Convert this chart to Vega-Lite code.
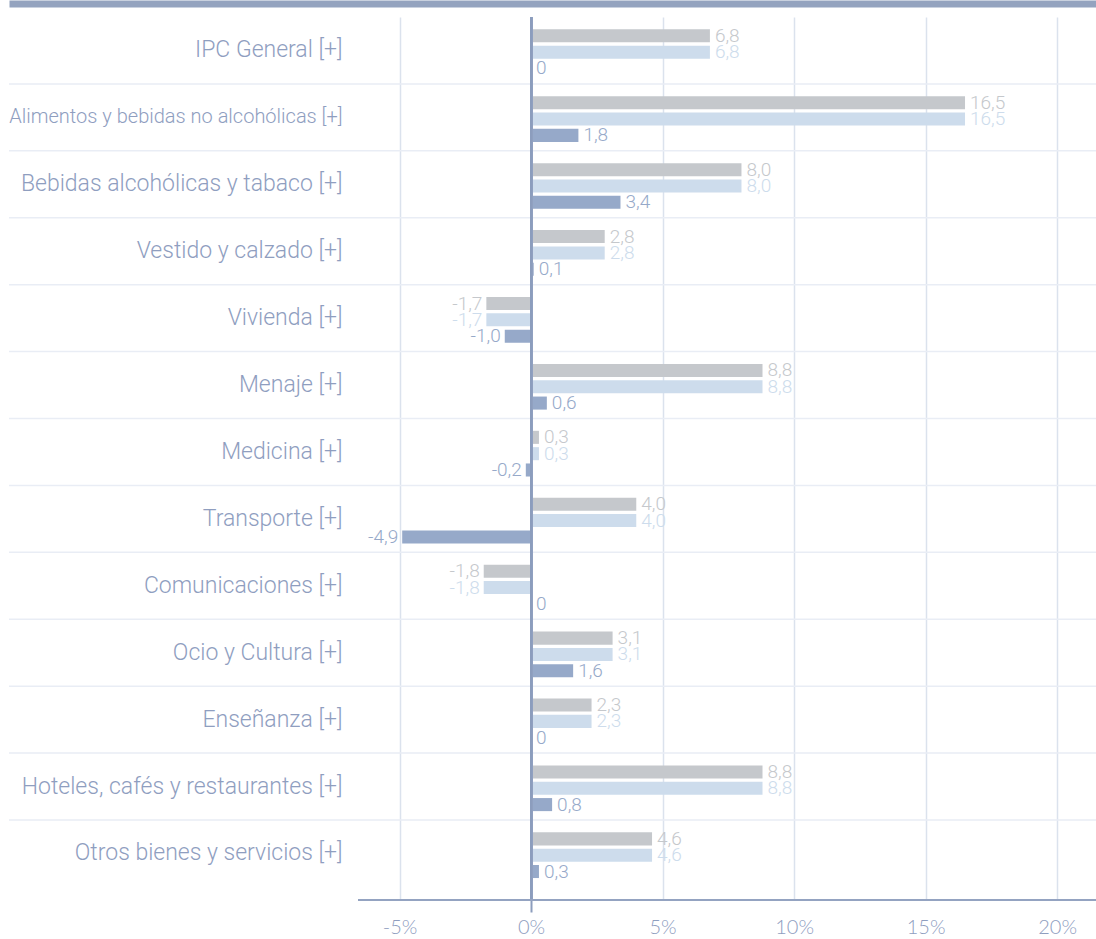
{
  "$schema": "https://vega.github.io/schema/vega-lite/v6.json",
  "width": 1087,
  "height": 883,
  "autosize": {"type": "none"},
  "padding": {"left": 9, "top": 17, "right": 0, "bottom": 39},
  "background": "white",
  "config": {
    "view": {"stroke": null},
    "locale": {"number": {"decimal": ",", "thousands": ".", "grouping": [3], "currency": ["", " €"], "minus": "-"}}
  },
  "data": {
    "values": [
      {"cat": "IPC General [+]", "serie": "Anual", "v": 6.8},
      {"cat": "IPC General [+]", "serie": "Acumulada", "v": 6.8},
      {"cat": "IPC General [+]", "serie": "Mensual", "v": 0},
      {"cat": "Alimentos y bebidas no alcohólicas [+]", "serie": "Anual", "v": 16.5},
      {"cat": "Alimentos y bebidas no alcohólicas [+]", "serie": "Acumulada", "v": 16.5},
      {"cat": "Alimentos y bebidas no alcohólicas [+]", "serie": "Mensual", "v": 1.8},
      {"cat": "Bebidas alcohólicas y tabaco [+]", "serie": "Anual", "v": 8.0},
      {"cat": "Bebidas alcohólicas y tabaco [+]", "serie": "Acumulada", "v": 8.0},
      {"cat": "Bebidas alcohólicas y tabaco [+]", "serie": "Mensual", "v": 3.4},
      {"cat": "Vestido y calzado [+]", "serie": "Anual", "v": 2.8},
      {"cat": "Vestido y calzado [+]", "serie": "Acumulada", "v": 2.8},
      {"cat": "Vestido y calzado [+]", "serie": "Mensual", "v": 0.1},
      {"cat": "Vivienda [+]", "serie": "Anual", "v": -1.7},
      {"cat": "Vivienda [+]", "serie": "Acumulada", "v": -1.7},
      {"cat": "Vivienda [+]", "serie": "Mensual", "v": -1.0},
      {"cat": "Menaje [+]", "serie": "Anual", "v": 8.8},
      {"cat": "Menaje [+]", "serie": "Acumulada", "v": 8.8},
      {"cat": "Menaje [+]", "serie": "Mensual", "v": 0.6},
      {"cat": "Medicina [+]", "serie": "Anual", "v": 0.3},
      {"cat": "Medicina [+]", "serie": "Acumulada", "v": 0.3},
      {"cat": "Medicina [+]", "serie": "Mensual", "v": -0.2},
      {"cat": "Transporte [+]", "serie": "Anual", "v": 4.0},
      {"cat": "Transporte [+]", "serie": "Acumulada", "v": 4.0},
      {"cat": "Transporte [+]", "serie": "Mensual", "v": -4.9},
      {"cat": "Comunicaciones [+]", "serie": "Anual", "v": -1.8},
      {"cat": "Comunicaciones [+]", "serie": "Acumulada", "v": -1.8},
      {"cat": "Comunicaciones [+]", "serie": "Mensual", "v": 0},
      {"cat": "Ocio y Cultura [+]", "serie": "Anual", "v": 3.1},
      {"cat": "Ocio y Cultura [+]", "serie": "Acumulada", "v": 3.1},
      {"cat": "Ocio y Cultura [+]", "serie": "Mensual", "v": 1.6},
      {"cat": "Enseñanza [+]", "serie": "Anual", "v": 2.3},
      {"cat": "Enseñanza [+]", "serie": "Acumulada", "v": 2.3},
      {"cat": "Enseñanza [+]", "serie": "Mensual", "v": 0},
      {"cat": "Hoteles, cafés y restaurantes [+]", "serie": "Anual", "v": 8.8},
      {"cat": "Hoteles, cafés y restaurantes [+]", "serie": "Acumulada", "v": 8.8},
      {"cat": "Hoteles, cafés y restaurantes [+]", "serie": "Mensual", "v": 0.8},
      {"cat": "Otros bienes y servicios [+]", "serie": "Anual", "v": 4.6},
      {"cat": "Otros bienes y servicios [+]", "serie": "Acumulada", "v": 4.6},
      {"cat": "Otros bienes y servicios [+]", "serie": "Mensual", "v": 0.3}
    ]
  },
  "layer": [
    {
      "layer": [
        {
          "transform": [{"filter": "datum.serie === 'Mensual' && datum.cat !== 'IPC General [+]'"}],
          "mark": {"type": "rule", "color": "#e9edf5", "strokeWidth": 1.5},
          "encoding": {
            "y": {"field": "cat", "type": "nominal", "bandPosition": 0, "title": null,
              "sort": ["IPC General [+]", "Alimentos y bebidas no alcohólicas [+]", "Bebidas alcohólicas y tabaco [+]", "Vestido y calzado [+]", "Vivienda [+]", "Menaje [+]", "Medicina [+]", "Transporte [+]", "Comunicaciones [+]", "Ocio y Cultura [+]", "Enseñanza [+]", "Hoteles, cafés y restaurantes [+]", "Otros bienes y servicios [+]"]}
          }
        },
        {
          "mark": {"type": "bar"},
          "encoding": {
            "y": {"field": "cat", "type": "nominal", "title": null,
              "sort": ["IPC General [+]", "Alimentos y bebidas no alcohólicas [+]", "Bebidas alcohólicas y tabaco [+]", "Vestido y calzado [+]", "Vivienda [+]", "Menaje [+]", "Medicina [+]", "Transporte [+]", "Comunicaciones [+]", "Ocio y Cultura [+]", "Enseñanza [+]", "Hoteles, cafés y restaurantes [+]", "Otros bienes y servicios [+]"],
              "scale": {"paddingInner": 0, "paddingOuter": 0.0975, "align": 0},
              "axis": {"ticks": false, "tickSize": 0, "domain": false, "grid": false, "labelAlign": "right", "labelBaseline": "middle", "labelPadding": -333, "labelFont": "Roboto", "labelFontWeight": 300,
                "labelFontSize": {"condition": {"test": "datum.value === 'Alimentos y bebidas no alcohólicas [+]'", "value": 20}, "value": 23},
                "labelColor": "#8f9ebf", "labelLimit": 0}},
            "yOffset": {"field": "serie", "sort": ["Anual", "Acumulada", "Mensual"], "scale": {"paddingInner": 0.2, "paddingOuter": 0.65, "align": 0.58}},
            "x": {"field": "v", "type": "quantitative", "title": null,
              "scale": {"domain": [-19.85, 21.48], "nice": false},
              "axis": {"values": [-5, 0, 5, 10, 15, 20], "labelExpr": "datum.value + '%'", "domain": false,
                "grid": true, "gridColor": "#dbe2ed", "gridWidth": 1.5,
                "ticks": true, "tickSize": 12, "tickWidth": 2,
                "tickColor": {"condition": {"test": "datum.value === 0", "value": "#8c9dbd"}, "value": "transparent"},
                "labelPadding": 5, "labelFont": "Lato", "labelFontWeight": 300, "labelFontSize": 20, "labelColor": "#8f9ebf", "labelFlush": false}},
            "color": {"field": "serie", "scale": {"domain": ["Anual", "Acumulada", "Mensual"], "range": ["#c5c8cc", "#cddcec", "#96a9c9"]}, "legend": null}
          }
        },
        {
          "transform": [{"filter": "datum.v >= 0"}],
          "mark": {"type": "text", "align": "left", "baseline": "middle", "dx": 5, "font": "Roboto", "fontWeight": 300, "fontSize": 19},
          "encoding": {
            "y": {"field": "cat", "type": "nominal", "title": null,
              "sort": ["IPC General [+]", "Alimentos y bebidas no alcohólicas [+]", "Bebidas alcohólicas y tabaco [+]", "Vestido y calzado [+]", "Vivienda [+]", "Menaje [+]", "Medicina [+]", "Transporte [+]", "Comunicaciones [+]", "Ocio y Cultura [+]", "Enseñanza [+]", "Hoteles, cafés y restaurantes [+]", "Otros bienes y servicios [+]"]},
            "yOffset": {"field": "serie", "sort": ["Anual", "Acumulada", "Mensual"]},
            "x": {"field": "v", "type": "quantitative", "title": null},
            "color": {"field": "serie", "legend": null},
            "text": {"condition": {"test": "datum.v === 0", "value": "0"}, "field": "v", "type": "quantitative", "format": ".1f"}
          }
        },
        {
          "transform": [{"filter": "datum.v < 0"}],
          "mark": {"type": "text", "align": "right", "baseline": "middle", "dx": -4, "font": "Roboto", "fontWeight": 300, "fontSize": 19},
          "encoding": {
            "y": {"field": "cat", "type": "nominal", "title": null,
              "sort": ["IPC General [+]", "Alimentos y bebidas no alcohólicas [+]", "Bebidas alcohólicas y tabaco [+]", "Vestido y calzado [+]", "Vivienda [+]", "Menaje [+]", "Medicina [+]", "Transporte [+]", "Comunicaciones [+]", "Ocio y Cultura [+]", "Enseñanza [+]", "Hoteles, cafés y restaurantes [+]", "Otros bienes y servicios [+]"]},
            "yOffset": {"field": "serie", "sort": ["Anual", "Acumulada", "Mensual"]},
            "x": {"field": "v", "type": "quantitative", "title": null},
            "color": {"field": "serie", "legend": null},
            "text": {"field": "v", "type": "quantitative", "format": ".1f"}
          }
        }
      ]
    },
    {
      "mark": {"type": "rule", "color": "#8c9dbd", "strokeWidth": 2},
      "encoding": {
        "x": {"datum": 0, "type": "quantitative", "title": null,
          "axis": {"orient": "top", "domain": true, "domainColor": "#94a3bf", "domainWidth": 7, "offset": 13.5, "ticks": false, "labels": false, "grid": false, "title": null}}
      }
    },
    {
      "mark": {"type": "rule", "color": "#94a3c1", "strokeWidth": 2},
      "encoding": {
        "x": {"datum": -6.58, "type": "quantitative", "axis": null},
        "x2": {"datum": 21.48},
        "y": {"datum": 0, "type": "quantitative", "scale": {"domain": [0, 1]}, "axis": null}
      }
    }
  ],
  "resolve": {"scale": {"y": "independent"}, "axis": {"x": "independent", "y": "independent"}}
}
